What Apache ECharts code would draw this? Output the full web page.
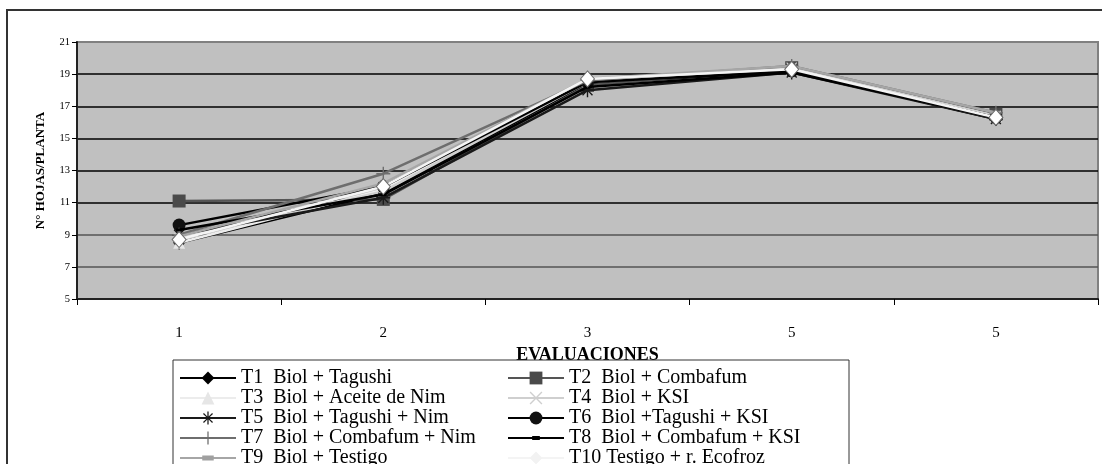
<!DOCTYPE html>
<html>
<head>
<meta charset="utf-8">
<script src="https://cdn.jsdelivr.net/npm/echarts@6/dist/echarts.min.js"></script>
<style>
  html, body { margin: 0; padding: 0; background: #fff; }
  #chart { width: 1102px; height: 464px; }
</style>
</head>
<body>
<div id="chart"></div>
<script>
// Evaluation labels along the horizontal axis
const evaluaciones = ['1', '2', '3', '5', '5'];

// Leaves per plant for each treatment
const t1 = [8.5, 11.6, 18.4, 19.2, 16.2];
const t2 = [11.1, 11.2, 18.3, 19.4, 16.5];
const t3 = [8.5, 11.8, 18.6, 19.3, 16.4];
const t4 = [8.8, 11.7, 18.5, 19.4, 16.4];
const t5 = [9.0, 11.3, 18.0, 19.1, 16.2];
const t6 = [9.6, 12.0, 18.5, 19.2, 16.3];
const t7 = [9.0, 12.8, 18.6, 19.5, 16.6];
const t8 = [9.3, 11.5, 18.2, 19.1, 16.3];
const t9 = [8.9, 12.2, 18.7, 19.5, 16.6];
const t10 = [8.7, 12.0, 18.7, 19.3, 16.3];

const treatmentNames = [
  'T1  Biol + Tagushi',
  'T2  Biol + Combafum',
  'T3  Biol + Aceite de Nim',
  'T4  Biol + KSI',
  'T5  Biol + Tagushi + Nim',
  'T6  Biol +Tagushi + KSI',
  'T7  Biol + Combafum + Nim',
  'T8  Biol + Combafum + KSI',
  'T9  Biol + Testigo',
  'T10 Testigo + r. Ecofroz'
];

// y-axis ticks
const yMin = 5, yMax = 21, yStep = 2;

const SERIF = '"Liberation Serif", "DejaVu Serif", serif';

// marker shapes (the dash markers keep a square box via hairline corner dots)
const PLUS = 'path://M9,0h2v9h9v2h-9v9h-2v-9h-9v-2h9z';
const CROSS = 'path://M2.2,0.8L10,8.6L17.8,0.8L19.2,2.2L11.4,10L19.2,17.8L17.8,19.2L10,11.4L2.2,19.2L0.8,17.8L8.6,10L0.8,2.2z';
const STAR = 'path://M9,0h2v7.6l5.4-5.4l1.4,1.4l-5.4,5.4h7.6v2h-7.6l5.4,5.4l-1.4,1.4l-5.4-5.4v7.6h-2v-7.6l-5.4,5.4l-1.4-1.4l5.4-5.4h-7.6v-2h7.6l-5.4-5.4l1.4-1.4l5.4,5.4z';
const DASH_SMALL = 'path://M0,0h0.01v0.01h-0.01z M10,10h0.01v0.01h-0.01z M2,3.5h6v3h-6z';
const DASH_WIDE = 'path://M0,0h0.01v0.01h-0.01z M10,10h0.01v0.01h-0.01z M0.5,3h9v4h-9z';

const styles = [
  { data: t1, line: '#000000', fill: '#000000', symbol: 'diamond', size: [12, 14] },
  { data: t2, line: '#555555', fill: '#4a4a4a', symbol: 'rect', size: 13 },
  { data: t3, line: '#ececec', fill: '#e6e6e6', symbol: 'triangle', size: 12 },
  { data: t4, line: '#cfcfcf', fill: '#cfcfcf', symbol: CROSS, size: 11 },
  { data: t5, line: '#1a1a1a', fill: '#1a1a1a', symbol: STAR, size: 14 },
  { data: t6, line: '#000000', fill: '#111111', symbol: 'circle', size: 13 },
  { data: t7, line: '#6e6e6e', fill: '#6e6e6e', symbol: PLUS, size: 14 },
  { data: t8, line: '#000000', fill: '#000000', symbol: DASH_SMALL, size: 10 },
  { data: t9, line: '#a6a6a6', fill: '#a0a0a0', symbol: DASH_WIDE, size: 10 },
  { data: t10, line: '#f4f4f4', fill: '#ffffff', symbol: 'diamond', size: [14, 16], border: '#6a6a6a' }
];

const series = styles.map((s, i) => ({
  name: treatmentNames[i],
  type: 'line',
  data: s.data,
  symbol: s.symbol,
  symbolSize: s.size,
  showAllSymbol: true,
  lineStyle: { color: s.line, width: 2.5 },
  itemStyle: { color: s.fill, borderColor: s.border || s.fill, borderWidth: s.border ? 1 : 0 },
  emphasis: { disabled: true },
  z: 2 + i
}));

// legend entries; the last one shows a plain pale diamond
const legendItems = treatmentNames.map((name, i) =>
  i === 9 ? { name: name, itemStyle: { color: '#f2f2f2', borderWidth: 0 } } : { name: name }
);

const chart = echarts.init(document.getElementById('chart'), null, { renderer: 'canvas' });
chart.setOption({
  animation: false,
  backgroundColor: '#ffffff',
  graphic: [{
    type: 'rect',
    shape: { x: 7, y: 10, width: 1200, height: 600 },
    style: { fill: 'none', stroke: '#333333', lineWidth: 2 },
    z: -10
  }],
  grid: {
    left: 77, right: 4, top: 42, bottom: 165,
    show: true,
    backgroundColor: '#c0c0c0',
    borderColor: '#808080',
    borderWidth: 2
  },
  xAxis: {
    type: 'category',
    data: evaluaciones,
    boundaryGap: true,
    name: 'EVALUACIONES',
    nameLocation: 'middle',
    nameGap: 46,
    nameTextStyle: { fontFamily: SERIF, fontWeight: 'bold', fontSize: 18, color: '#000' },
    axisLine: { lineStyle: { color: '#222', width: 2 } },
    axisTick: { show: true, interval: 0, length: 6, lineStyle: { color: '#000', width: 1 } },
    axisLabel: { interval: 0, margin: 27, fontFamily: SERIF, fontSize: 15, color: '#000' },
    splitLine: { show: false }
  },
  yAxis: {
    type: 'value',
    min: yMin, max: yMax, interval: yStep,
    name: 'N° HOJAS/PLANTA',
    nameLocation: 'middle',
    nameRotate: 90,
    nameGap: 30,
    nameTextStyle: { fontFamily: SERIF, fontWeight: 'bold', fontSize: 13, color: '#000' },
    axisLine: { show: true, lineStyle: { color: '#222', width: 2 } },
    axisTick: { show: true, length: 5, lineStyle: { color: '#000' } },
    axisLabel: { margin: 7, fontFamily: SERIF, fontSize: 10.5, color: '#000' },
    splitLine: { show: true, lineStyle: { color: ['#555', '#555', '#555', '#000', '#000', '#000', '#000', '#000', '#808080'], width: 1.5 } }
  },
  legend: {
    data: legendItems,
    orient: 'horizontal',
    left: 173, top: 360, width: 660,
    padding: [8, 14, 10, 6],
    itemWidth: 56, itemHeight: 16, itemGap: 0,
    backgroundColor: '#ffffff',
    borderColor: '#333333', borderWidth: 1,
    selectedMode: false,
    textStyle: { fontFamily: SERIF, fontSize: 20, color: '#000', width: 266, lineHeight: 19.5 },
    z: 10
  },
  series: series
});
</script>
</body>
</html>
